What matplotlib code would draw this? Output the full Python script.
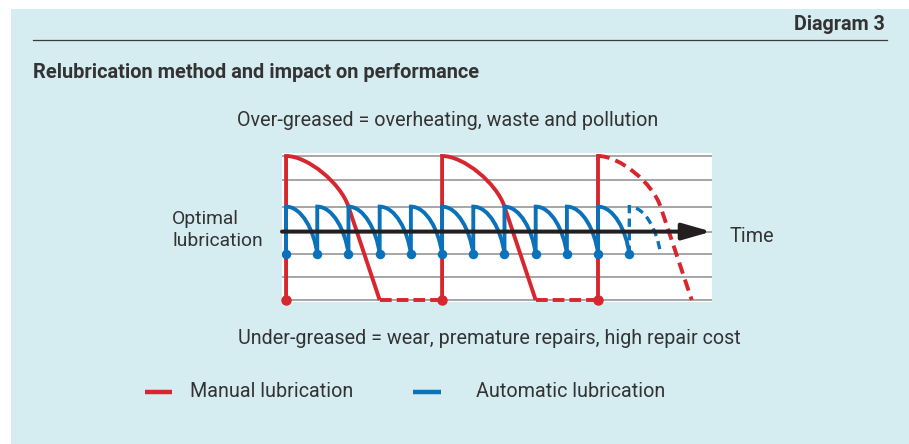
import matplotlib
matplotlib.use("Agg")
import matplotlib.pyplot as plt
from matplotlib.path import Path
from matplotlib.patches import PathPatch, Rectangle

# ---- data -------------------------------------------------------------
# time measured in automatic relubrication intervals
auto_cycles_solid = list(range(0, 11))      # start of each full automatic cycle
auto_cycles_dashed = [11]                   # projected cycle
manual_cycles_solid = [0, 5]                # start of each manual regrease
manual_cycles_dashed = [10]                 # last regrease, projected decay
manual_interval = 5

# lubricant levels (bottom of chart = 0)
grid_levels = [0.0, 0.96, 1.92, 2.85, 3.89, 4.98, 6.0]
optimal_level = 2.85
auto_top, auto_bottom = 3.89, 1.92
manual_top, manual_bottom = 6.0, 0.0
manual_knee = (2.0, 3.89)   # where the manual decay turns into a straight fall
manual_empty = 3.0          # time after regrease when lubricant runs out

time_range = (-0.13, 13.65)

RED = "#d7262e"
BLUE = "#0a72ba"
TEXT = "#333333"
BG = "#d5ecf1"

plt.rcParams["font.family"] = ["Roboto", "DejaVu Sans"]
FS = 14.2
FSB = 14.4

W, H = 909, 444
fig = plt.figure(figsize=(W / 100, H / 100), dpi=100, facecolor="white")

# full-figure overlay in pixel units for the frame and text
ov = fig.add_axes([0, 0, 1, 1])
ov.set_xlim(0, W)
ov.set_ylim(H, 0)
ov.axis("off")
ov.add_patch(Rectangle((11, 9), W - 11, H - 9, facecolor=BG, edgecolor="none"))
ov.plot([33, 887], [40.5, 40.5], color="#3c3c3c", lw=0.9)
ov.text(885, 25, "Diagram 3", ha="right", va="center", fontsize=14.2,
        fontweight="bold", color=TEXT)
ov.text(33, 73, "Relubrication method and impact on performance", ha="left",
        va="center", fontsize=FSB, fontweight="bold", color=TEXT)
ov.text(448, 120, "Over-greased = overheating, waste and pollution",
        ha="center", va="center", fontsize=FS, color=TEXT)
ov.text(489, 338, "Under-greased = wear, premature repairs, high repair cost",
        ha="center", va="center", fontsize=FS, color=TEXT)
ov.text(172, 230, "Optimal\nlubrication", ha="left", va="center",
        fontsize=13.9, color=TEXT, linespacing=1.22)
ov.text(729, 236, "Time", ha="left", va="center", fontsize=FS, color=TEXT)

# legend
ov.plot([145, 172], [392, 392], color=RED, lw=3.2, solid_capstyle="butt")
ov.text(190, 391, "Manual lubrication", ha="left", va="center",
        fontsize=FS, color=TEXT)
ov.plot([413, 441], [392, 392], color=BLUE, lw=3.2, solid_capstyle="butt")
ov.text(476, 391, "Automatic lubrication", ha="left", va="center",
        fontsize=FS, color=TEXT)

# ---- chart ------------------------------------------------------------
x0px, x1px, y0px, y1px = 282, 712, 153, 302
ax = fig.add_axes([x0px / W, 1 - y1px / H, (x1px - x0px) / W, (y1px - y0px) / H])
ax.set_facecolor("white")
ax.set_xlim(*time_range)
unit_px = (300 - 156) / (manual_top - manual_bottom)
ax.set_ylim(manual_bottom - (y1px - 300) / unit_px, manual_top + (156 - y0px) / unit_px)
ax.axis("off")
ax.add_patch(Rectangle((0, 0), 1, 1, transform=ax.transAxes,
                       facecolor="white", edgecolor="none", zorder=0))

for g in grid_levels:
    ax.plot(time_range, [g, g], color="#8e8e8e", lw=1.1, zorder=1)


def manual_path(s):
    kx, ky = manual_knee
    verts = [(s, manual_bottom), (s, manual_top),
             (s + 0.7, manual_top), (s + kx - 0.25, ky + 0.25 * 3.9), (s + kx, ky),
             (s + manual_empty, manual_bottom)]
    codes = [Path.MOVETO, Path.LINETO, Path.CURVE4, Path.CURVE4, Path.CURVE4, Path.LINETO]
    return Path(verts, codes)


def auto_path(c):
    verts = [(c, auto_bottom), (c, auto_top),
             (c + 0.5, auto_top), (c + 0.9, 2.9), (c + 1, auto_bottom)]
    codes = [Path.MOVETO, Path.LINETO, Path.CURVE4, Path.CURVE4, Path.CURVE4]
    return Path(verts, codes)


lw = 2.8
for s in manual_cycles_solid:
    ax.add_patch(PathPatch(manual_path(s), facecolor="none", edgecolor=RED,
                           lw=lw, zorder=3, joinstyle="miter", capstyle="butt"))
    ax.plot([s + manual_empty, s + manual_interval], [manual_bottom, manual_bottom],
            color=RED, lw=lw, ls=(0, (3, 1.3)), zorder=3)
for s in manual_cycles_dashed:
    ax.plot([s, s], [manual_bottom, manual_top], color=RED, lw=lw, zorder=3)
    p = manual_path(s)
    verts, codes = p.vertices[1:], p.codes[1:].copy()
    codes[0] = Path.MOVETO
    ax.add_patch(PathPatch(Path(verts, codes), facecolor="none", edgecolor=RED,
                           lw=lw, ls=(0, (3, 1.6)), zorder=3))
ax.plot(manual_cycles_solid + manual_cycles_dashed,
        [manual_bottom] * (len(manual_cycles_solid) + len(manual_cycles_dashed)),
        "o", color=RED, ms=6.5, zorder=3, clip_on=False)

for c in auto_cycles_solid:
    ax.add_patch(PathPatch(auto_path(c), facecolor="none", edgecolor=BLUE,
                           lw=lw, zorder=4, joinstyle="miter", capstyle="butt"))
for c in auto_cycles_dashed:
    ax.add_patch(PathPatch(auto_path(c), facecolor="none", edgecolor=BLUE,
                           lw=lw * 0.85, ls=(0, (2.5, 1.6)), zorder=4))
dots = auto_cycles_solid + [auto_cycles_solid[-1] + 1]
ax.plot(dots, [auto_bottom] * len(dots), "o", color=BLUE, ms=5.8, zorder=4)

# time axis
ax.annotate("", xy=(time_range[1] - 0.02, optimal_level),
            xytext=(time_range[0], optimal_level),
            arrowprops=dict(arrowstyle="-|>,head_length=1.75,head_width=0.5",
                            mutation_scale=10, lw=2.9, color="#231f20",
                            shrinkA=0, shrinkB=0),
            zorder=5, annotation_clip=False)

fig.savefig("out.png", dpi=100, facecolor=fig.get_facecolor())
